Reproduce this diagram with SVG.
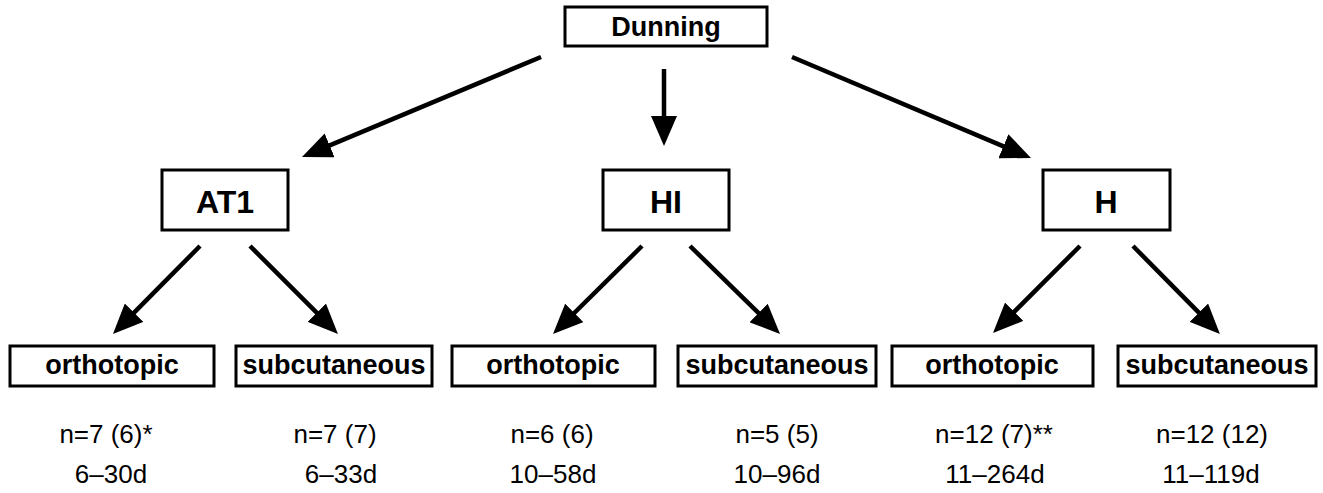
<svg xmlns="http://www.w3.org/2000/svg" width="1323" height="493" viewBox="0 0 1323 493">
  <style>
    .box { fill: #fff; stroke: #000; stroke-width: 3; }
    .lbl { font-family: "Liberation Sans", Arial, sans-serif; font-weight: bold; text-anchor: middle; fill: #000; }
    .big { font-size: 32px; }
    .mid { font-size: 27px; }
    .info { font-family: "Liberation Sans", Arial, sans-serif; font-size: 26px; text-anchor: middle; fill: #000; }
    .conn { stroke: #000; stroke-width: 4.5; fill: none; marker-end: url(#ah); }
  </style>
  <defs>
    <marker id="ah" markerUnits="userSpaceOnUse" markerWidth="30" markerHeight="26" refX="20" refY="13" orient="auto">
      <path d="M0,0 L30,13 L0,26 Z" fill="#000"/>
    </marker>
  </defs>
  <rect width="1323" height="493" fill="#fff"/>

  <g id="connectors">
    <line class="conn" x1="541" y1="57" x2="311.2" y2="153.1"/>
    <line class="conn" x1="664" y1="69" x2="664" y2="136"/>
    <line class="conn" x1="792" y1="57" x2="1021.8" y2="154.1"/>
    <line class="conn" x1="200" y1="246" x2="120" y2="326.9"/>
    <line class="conn" x1="250" y1="246" x2="330.9" y2="326.9"/>
    <line class="conn" x1="642" y1="246" x2="560.1" y2="327"/>
    <line class="conn" x1="690" y1="246" x2="772.9" y2="327"/>
    <line class="conn" x1="1080" y1="246" x2="1000.1" y2="325.9"/>
    <line class="conn" x1="1133" y1="246" x2="1212.9" y2="326.9"/>
  </g>

  <g id="dunning">
    <rect class="box" x="565" y="7" width="202" height="39"/>
    <text class="lbl mid" x="666" y="36">Dunning</text>
  </g>

  <g id="at1">
    <rect class="box" x="162" y="170" width="126" height="60"/>
    <text class="lbl big" x="225" y="213">AT1</text>
  </g>
  <g id="hi">
    <rect class="box" x="603" y="170" width="126" height="60"/>
    <text class="lbl big" x="666" y="213">HI</text>
  </g>
  <g id="h">
    <rect class="box" x="1043" y="170" width="127" height="60"/>
    <text class="lbl big" x="1106" y="213">H</text>
  </g>

  <g id="at1-orthotopic">
    <rect class="box" x="10" y="346" width="204" height="40"/>
    <text class="lbl mid" x="112" y="374">orthotopic</text>
    <text class="info" x="106" y="443">n=7 (6)*</text>
    <text class="info" x="111" y="483">6–30d</text>
  </g>
  <g id="at1-subcutaneous">
    <rect class="box" x="236" y="346" width="196" height="40"/>
    <text class="lbl mid" x="334" y="374">subcutaneous</text>
    <text class="info" x="335" y="443">n=7 (7)</text>
    <text class="info" x="341" y="483">6–33d</text>
  </g>
  <g id="hi-orthotopic">
    <rect class="box" x="452" y="346" width="203" height="40"/>
    <text class="lbl mid" x="553" y="374">orthotopic</text>
    <text class="info" x="552" y="443">n=6 (6)</text>
    <text class="info" x="553" y="483">10–58d</text>
  </g>
  <g id="hi-subcutaneous">
    <rect class="box" x="678" y="346" width="198" height="40"/>
    <text class="lbl mid" x="777" y="374">subcutaneous</text>
    <text class="info" x="777" y="443">n=5 (5)</text>
    <text class="info" x="777" y="483">10–96d</text>
  </g>
  <g id="h-orthotopic">
    <rect class="box" x="892" y="346" width="201" height="40"/>
    <text class="lbl mid" x="992" y="374">orthotopic</text>
    <text class="info" x="994" y="443">n=12 (7)**</text>
    <text class="info" x="995" y="483">11–264d</text>
  </g>
  <g id="h-subcutaneous">
    <rect class="box" x="1118" y="346" width="198" height="40"/>
    <text class="lbl mid" x="1217" y="374">subcutaneous</text>
    <text class="info" x="1212" y="443">n=12 (12)</text>
    <text class="info" x="1211" y="483">11–119d</text>
  </g>
</svg>
